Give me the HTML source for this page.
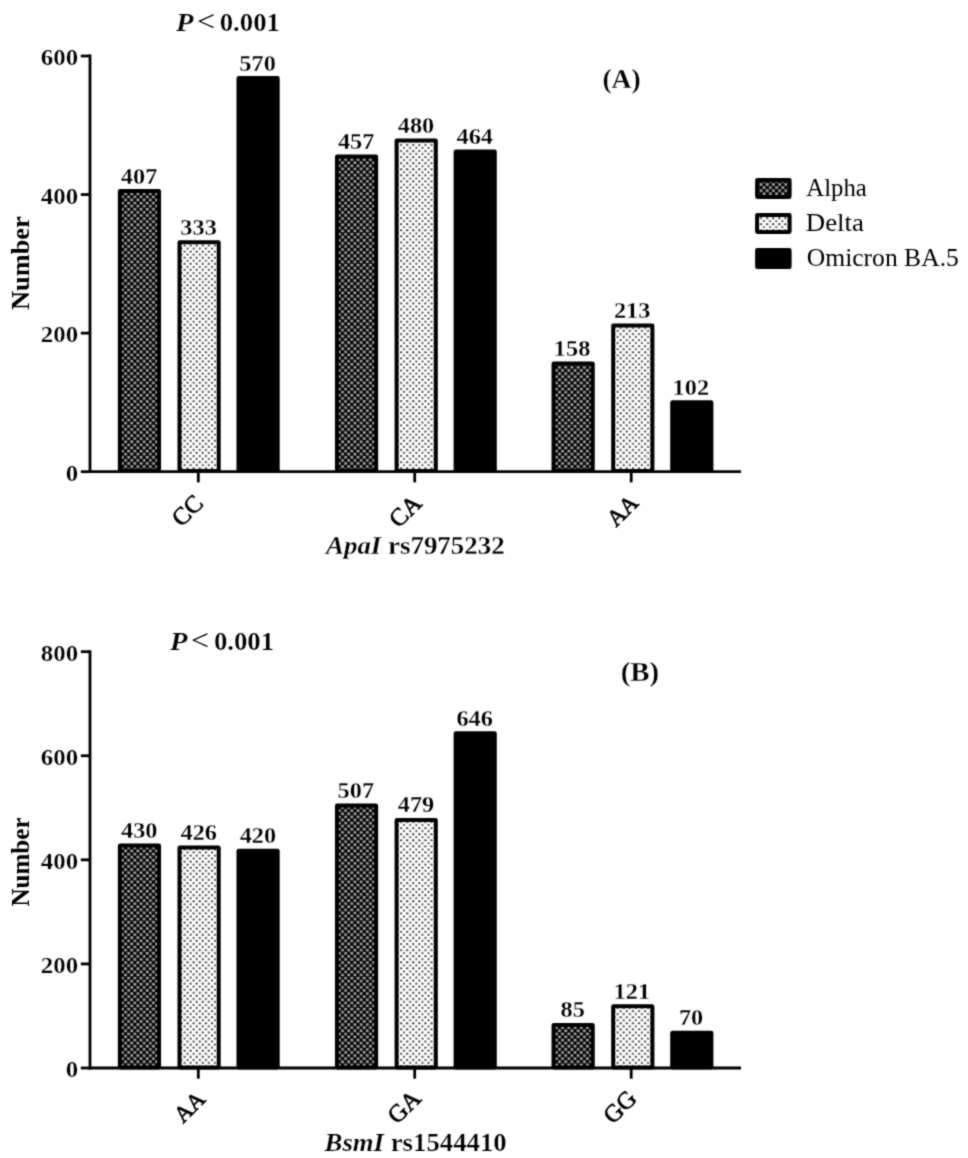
<!DOCTYPE html>
<html><head><meta charset="utf-8"><style>
html,body{margin:0;padding:0;background:#fff;}
svg{display:block;filter:grayscale(1);}
text{font-family:"Liberation Serif", serif;fill:#000;font-kerning:none;}
text.e{stroke:#fff;stroke-width:0.25px;}
</style></head><body>
<svg width="968" height="1158" viewBox="0 0 968 1158">
<defs>
<pattern id="pA" width="6.2" height="6.2" patternUnits="userSpaceOnUse">
  <rect width="6.2" height="6.2" fill="#000"/>
  <rect x="0.15" y="0.15" width="2.8" height="2.8" rx="0.6" fill="#a8a8a8"/>
  <rect x="3.25" y="3.25" width="2.8" height="2.8" rx="0.6" fill="#a8a8a8"/>
</pattern>
<pattern id="pD" width="6.1" height="6.1" patternUnits="userSpaceOnUse">
  <rect width="6.1" height="6.1" fill="#fff"/>
  <circle cx="1.5" cy="1.5" r="1.12" fill="#474747"/>
  <circle cx="4.55" cy="4.55" r="1.12" fill="#474747"/>
</pattern>
<pattern id="pAL" width="6.2" height="6.2" patternUnits="userSpaceOnUse">
  <rect width="6.2" height="6.2" fill="#000"/>
  <rect x="0.15" y="0.15" width="2.8" height="2.8" rx="0.6" fill="#a8a8a8"/>
  <rect x="3.25" y="3.25" width="2.8" height="2.8" rx="0.6" fill="#a8a8a8"/>
</pattern>
<pattern id="pDL" width="6.1" height="6.1" patternUnits="userSpaceOnUse">
  <rect width="6.1" height="6.1" fill="#fff"/>
  <circle cx="1.5" cy="1.5" r="1.12" fill="#474747"/>
  <circle cx="4.55" cy="4.55" r="1.12" fill="#474747"/>
</pattern>

<filter id="bl" color-interpolation-filters="sRGB" x="0" y="0" width="968" height="1158" filterUnits="userSpaceOnUse"><feConvolveMatrix order="3" kernelMatrix="0.03 0.11 0.03 0.11 0.44 0.11 0.03 0.11 0.03" divisor="1" edgeMode="duplicate" preserveAlpha="true"/></filter>
</defs>
<g filter="url(#bl)">
<rect width="968" height="1158" fill="#fff"/>
<rect x="119.85" y="191.02" width="39.20" height="280.08" rx="0.3" fill="url(#pA)" stroke="#000" stroke-width="4.0" stroke-linejoin="round"/>
<text class="e" transform="translate(120.84,183.72) scale(1.0200,1)" font-size="23.85" font-weight="bold" font-style="normal">407</text>
<rect x="179.50" y="242.29" width="39.20" height="228.81" rx="0.3" fill="url(#pD)" stroke="#000" stroke-width="4.0" stroke-linejoin="round"/>
<text class="e" transform="translate(180.31,234.99) scale(1.0200,1)" font-size="23.85" font-weight="bold" font-style="normal">333</text>
<rect x="238.50" y="78.09" width="39.20" height="393.01" rx="0.3" fill="#000" stroke="#000" stroke-width="4.0" stroke-linejoin="round"/>
<text class="e" transform="translate(239.33,70.79) scale(1.0200,1)" font-size="23.85" font-weight="bold" font-style="normal">570</text>
<rect x="336.95" y="156.38" width="39.20" height="314.72" rx="0.3" fill="url(#pA)" stroke="#000" stroke-width="4.0" stroke-linejoin="round"/>
<text class="e" transform="translate(337.94,149.08) scale(1.0200,1)" font-size="23.85" font-weight="bold" font-style="normal">457</text>
<rect x="396.60" y="140.44" width="39.20" height="330.66" rx="0.3" fill="url(#pD)" stroke="#000" stroke-width="4.0" stroke-linejoin="round"/>
<text class="e" transform="translate(397.75,133.14) scale(1.0200,1)" font-size="23.85" font-weight="bold" font-style="normal">480</text>
<rect x="455.60" y="151.53" width="39.20" height="319.57" rx="0.3" fill="#000" stroke="#000" stroke-width="4.0" stroke-linejoin="round"/>
<text class="e" transform="translate(456.51,144.23) scale(1.0200,1)" font-size="23.85" font-weight="bold" font-style="normal">464</text>
<rect x="553.55" y="363.53" width="39.20" height="107.57" rx="0.3" fill="url(#pA)" stroke="#000" stroke-width="4.0" stroke-linejoin="round"/>
<text class="e" transform="translate(553.83,356.23) scale(1.0200,1)" font-size="23.85" font-weight="bold" font-style="normal">158</text>
<rect x="613.20" y="325.43" width="39.20" height="145.67" rx="0.3" fill="url(#pD)" stroke="#000" stroke-width="4.0" stroke-linejoin="round"/>
<text class="e" transform="translate(613.96,318.13) scale(1.0200,1)" font-size="23.85" font-weight="bold" font-style="normal">213</text>
<rect x="672.20" y="402.33" width="39.20" height="68.77" rx="0.3" fill="#000" stroke="#000" stroke-width="4.0" stroke-linejoin="round"/>
<text class="e" transform="translate(672.60,395.03) scale(1.0200,1)" font-size="23.85" font-weight="bold" font-style="normal">102</text>
<line x1="90.0" y1="54.60" x2="90.0" y2="473.10" stroke="#000" stroke-width="2.8"/>
<line x1="80.8" y1="471.70" x2="90.0" y2="471.70" stroke="#000" stroke-width="2.8"/>
<text class="e" transform="translate(65.79,481.00) scale(1.0450,1)" font-size="23.85" font-weight="bold" font-style="normal">0</text>
<line x1="80.8" y1="333.13" x2="90.0" y2="333.13" stroke="#000" stroke-width="2.8"/>
<text class="e" transform="translate(40.86,342.43) scale(1.0450,1)" font-size="23.85" font-weight="bold" font-style="normal">200</text>
<line x1="80.8" y1="194.57" x2="90.0" y2="194.57" stroke="#000" stroke-width="2.8"/>
<text class="e" transform="translate(40.86,203.87) scale(1.0450,1)" font-size="23.85" font-weight="bold" font-style="normal">400</text>
<line x1="80.8" y1="56.00" x2="90.0" y2="56.00" stroke="#000" stroke-width="2.8"/>
<text class="e" transform="translate(40.86,65.30) scale(1.0450,1)" font-size="23.85" font-weight="bold" font-style="normal">600</text>
<line x1="88.6" y1="471.7" x2="741.0" y2="471.7" stroke="#000" stroke-width="2.8"/>
<line x1="198.3" y1="471.7" x2="198.3" y2="482.40" stroke="#000" stroke-width="2.8"/>
<text font-size="24.5" text-anchor="end" font-weight="normal" stroke="#000" stroke-width="0.7" transform="translate(204.50,504.70) rotate(-45)">CC</text>
<line x1="414.7" y1="471.7" x2="414.7" y2="482.40" stroke="#000" stroke-width="2.8"/>
<text font-size="24.5" text-anchor="end" font-weight="normal" stroke="#000" stroke-width="0.7" transform="translate(422.90,504.70) rotate(-45)">CA</text>
<line x1="631.2" y1="471.7" x2="631.2" y2="482.40" stroke="#000" stroke-width="2.8"/>
<text font-size="23.0" text-anchor="end" font-weight="normal" stroke="#000" stroke-width="0.7" transform="translate(639.50,504.20) rotate(-45)">AA</text>
<text class="e" transform="translate(325.99,554.30) scale(1.0420,1)" font-size="25.83" font-weight="bold" font-style="italic">ApaI</text>
<text class="e" transform="translate(381.33,554.30) scale(1.0420,1)" font-size="25.83" font-weight="bold" font-style="normal">&#160;rs7975232</text>
<text transform="translate(29.40,310.00) rotate(-90) scale(1.0702,1)" font-size="24.65" font-weight="bold">Number</text>
<text class="e" transform="translate(175.91,31.30) scale(1.1037,1)" font-size="25.96" font-weight="bold" font-style="italic">P</text>
<text transform="translate(196.91,31.14) scale(1.1034,1)" font-size="29.02" font-weight="normal" font-style="normal">&lt;</text>
<text class="e" transform="translate(219.68,31.30) scale(1.0610,1)" font-size="25.26" font-weight="bold" font-style="normal">0.001</text>
<text class="e" transform="translate(602.39,88.17) scale(1.0260,1)" font-size="26.91" font-weight="bold" font-style="normal">(A)</text>
<rect x="119.85" y="845.54" width="39.20" height="221.86" rx="0.3" fill="url(#pA)" stroke="#000" stroke-width="4.0" stroke-linejoin="round"/>
<text class="e" transform="translate(121.00,837.94) scale(1.0200,1)" font-size="23.85" font-weight="bold" font-style="normal">430</text>
<rect x="179.50" y="847.62" width="39.20" height="219.78" rx="0.3" fill="url(#pD)" stroke="#000" stroke-width="4.0" stroke-linejoin="round"/>
<text class="e" transform="translate(180.54,840.02) scale(1.0200,1)" font-size="23.85" font-weight="bold" font-style="normal">426</text>
<rect x="238.50" y="850.74" width="39.20" height="216.66" rx="0.3" fill="#000" stroke="#000" stroke-width="4.0" stroke-linejoin="round"/>
<text class="e" transform="translate(239.65,843.14) scale(1.0200,1)" font-size="23.85" font-weight="bold" font-style="normal">420</text>
<rect x="336.95" y="805.47" width="39.20" height="261.93" rx="0.3" fill="url(#pA)" stroke="#000" stroke-width="4.0" stroke-linejoin="round"/>
<text class="e" transform="translate(337.61,797.87) scale(1.0200,1)" font-size="23.85" font-weight="bold" font-style="normal">507</text>
<rect x="396.60" y="820.04" width="39.20" height="247.36" rx="0.3" fill="url(#pD)" stroke="#000" stroke-width="4.0" stroke-linejoin="round"/>
<text class="e" transform="translate(397.73,812.44) scale(1.0200,1)" font-size="23.85" font-weight="bold" font-style="normal">479</text>
<rect x="455.60" y="733.14" width="39.20" height="334.26" rx="0.3" fill="#000" stroke="#000" stroke-width="4.0" stroke-linejoin="round"/>
<text class="e" transform="translate(456.40,725.54) scale(1.0200,1)" font-size="23.85" font-weight="bold" font-style="normal">646</text>
<rect x="553.55" y="1025.07" width="39.20" height="42.33" rx="0.3" fill="url(#pA)" stroke="#000" stroke-width="4.0" stroke-linejoin="round"/>
<text class="e" transform="translate(560.53,1017.47) scale(1.0200,1)" font-size="23.85" font-weight="bold" font-style="normal">85</text>
<rect x="613.20" y="1006.33" width="39.20" height="61.07" rx="0.3" fill="url(#pD)" stroke="#000" stroke-width="4.0" stroke-linejoin="round"/>
<text class="e" transform="translate(613.71,998.73) scale(1.0200,1)" font-size="23.85" font-weight="bold" font-style="normal">121</text>
<rect x="672.20" y="1032.87" width="39.20" height="34.53" rx="0.3" fill="#000" stroke="#000" stroke-width="4.0" stroke-linejoin="round"/>
<text class="e" transform="translate(678.90,1025.27) scale(1.0200,1)" font-size="23.85" font-weight="bold" font-style="normal">70</text>
<line x1="90.0" y1="650.30" x2="90.0" y2="1069.40" stroke="#000" stroke-width="2.8"/>
<line x1="80.8" y1="1068.00" x2="90.0" y2="1068.00" stroke="#000" stroke-width="2.8"/>
<text class="e" transform="translate(65.79,1077.30) scale(1.0450,1)" font-size="23.85" font-weight="bold" font-style="normal">0</text>
<line x1="80.8" y1="963.92" x2="90.0" y2="963.92" stroke="#000" stroke-width="2.8"/>
<text class="e" transform="translate(40.86,973.22) scale(1.0450,1)" font-size="23.85" font-weight="bold" font-style="normal">200</text>
<line x1="80.8" y1="859.85" x2="90.0" y2="859.85" stroke="#000" stroke-width="2.8"/>
<text class="e" transform="translate(40.86,869.15) scale(1.0450,1)" font-size="23.85" font-weight="bold" font-style="normal">400</text>
<line x1="80.8" y1="755.78" x2="90.0" y2="755.78" stroke="#000" stroke-width="2.8"/>
<text class="e" transform="translate(40.86,765.08) scale(1.0450,1)" font-size="23.85" font-weight="bold" font-style="normal">600</text>
<line x1="80.8" y1="651.70" x2="90.0" y2="651.70" stroke="#000" stroke-width="2.8"/>
<text class="e" transform="translate(40.86,661.00) scale(1.0450,1)" font-size="23.85" font-weight="bold" font-style="normal">800</text>
<line x1="88.6" y1="1068.0" x2="741.0" y2="1068.0" stroke="#000" stroke-width="2.8"/>
<line x1="198.3" y1="1068.0" x2="198.3" y2="1078.70" stroke="#000" stroke-width="2.8"/>
<text font-size="23.0" text-anchor="end" font-weight="normal" stroke="#000" stroke-width="0.7" transform="translate(206.60,1100.50) rotate(-45)">AA</text>
<line x1="414.7" y1="1068.0" x2="414.7" y2="1078.70" stroke="#000" stroke-width="2.8"/>
<text font-size="24.5" text-anchor="end" font-weight="normal" stroke="#000" stroke-width="0.7" transform="translate(422.20,1100.00) rotate(-45)">GA</text>
<line x1="631.2" y1="1068.0" x2="631.2" y2="1078.70" stroke="#000" stroke-width="2.8"/>
<text font-size="24.5" text-anchor="end" font-weight="normal" stroke="#000" stroke-width="0.7" transform="translate(638.10,1099.90) rotate(-45)">GG</text>
<text class="e" transform="translate(324.55,1151.30) scale(1.0788,1)" font-size="24.81" font-weight="bold" font-style="italic">BsmI</text>
<text class="e" transform="translate(384.05,1151.30) scale(1.0788,1)" font-size="24.81" font-weight="bold" font-style="normal">&#160;rs1544410</text>
<text transform="translate(29.40,906.58) rotate(-90) scale(1.0171,1)" font-size="24.65" font-weight="bold">Number</text>
<text class="e" transform="translate(170.11,649.80) scale(1.1037,1)" font-size="25.96" font-weight="bold" font-style="italic">P</text>
<text transform="translate(191.11,649.64) scale(1.1034,1)" font-size="29.02" font-weight="normal" font-style="normal">&lt;</text>
<text class="e" transform="translate(213.88,649.80) scale(1.0610,1)" font-size="25.26" font-weight="bold" font-style="normal">0.001</text>
<text class="e" transform="translate(620.63,681.07) scale(1.0744,1)" font-size="26.91" font-weight="bold" font-style="normal">(B)</text>
<rect x="757.10" y="179.90" width="32.5" height="17" rx="0.3" fill="url(#pAL)" stroke="#000" stroke-width="4" stroke-linejoin="round"/>
<text transform="translate(806.36,196.40) scale(0.9435,1)" font-size="26.23" font-weight="normal" font-style="normal">Alpha</text>
<rect x="757.10" y="214.90" width="32.5" height="17" rx="0.3" fill="url(#pDL)" stroke="#000" stroke-width="4" stroke-linejoin="round"/>
<text transform="translate(805.83,231.10) scale(1.0235,1)" font-size="26.23" font-weight="normal" font-style="normal">Delta</text>
<rect x="757.10" y="250.00" width="32.5" height="17" rx="0.3" fill="#000" stroke="#000" stroke-width="4" stroke-linejoin="round"/>
<text transform="translate(806.75,266.00) scale(1.0272,1)" font-size="24.92" font-weight="normal" font-style="normal">Omicron&#160;BA.5</text>
</g>
</svg>
</body></html>
